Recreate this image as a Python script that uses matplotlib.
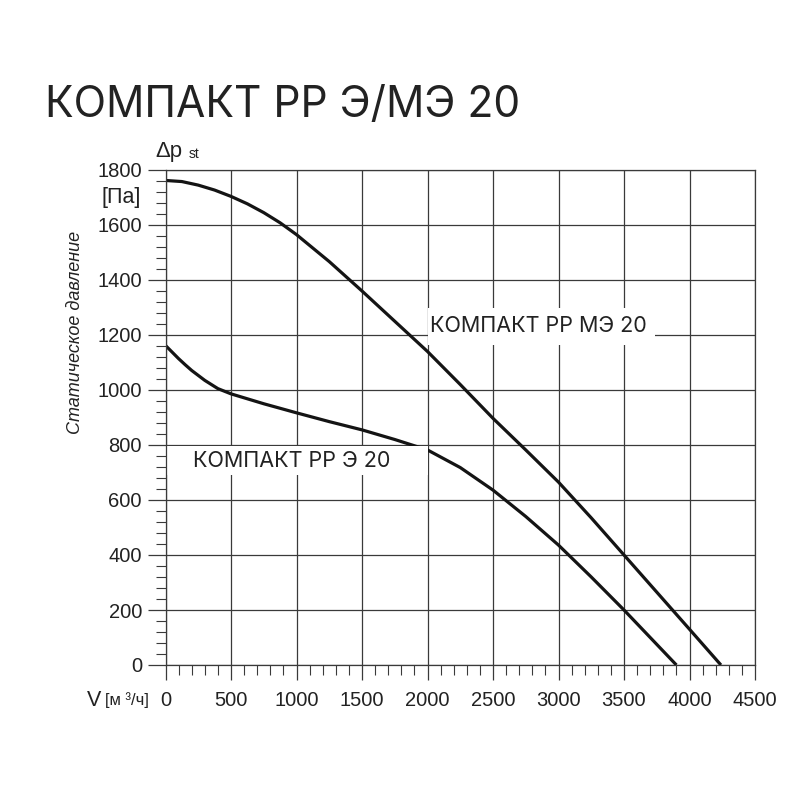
"""Fan curve chart: static pressure vs air flow for KOMPAKT RR E/ME 20."""
import matplotlib
matplotlib.use("Agg")
import matplotlib.pyplot as plt
from matplotlib.patches import Rectangle
from matplotlib.ticker import MultipleLocator

# --- data ---
Q_ME = [0, 125, 250, 375, 500, 625, 750, 875, 1000, 1250, 1500, 1750,
        2000, 2250, 2500, 2750, 3000, 3250, 3500, 3750, 4000, 4240]
P_ME = [1762, 1758, 1745, 1727, 1704, 1677, 1645, 1608, 1565, 1467, 1360,
        1250, 1140, 1020, 897, 782, 665, 535, 400, 265, 130, 0]

Q_E = [0, 50, 100, 150, 200, 300, 400, 500, 750, 1000, 1250, 1500, 1750,
       2000, 2250, 2500, 2750, 3000, 3250, 3500, 3750, 3900]
P_E = [1162, 1138, 1114, 1092, 1071, 1035, 1005, 986, 950, 917, 885, 855,
       820, 782, 718, 636, 540, 436, 320, 200, 75, 0]

TITLE = "КОМПАКТ РР Э/МЭ 20"
LABEL_ME = "КОМПАКТ РР МЭ 20"
LABEL_E = "КОМПАКТ РР Э 20"
YLABEL = "Статическое давление"

X_TICKS = list(range(0, 4501, 500))
Y_TICKS = list(range(0, 1801, 200))

LINE_C = "#141414"
GRID_C = "#3a3a3a"
TEXT_C = "#222222"
TICK_FONT = "Liberation Sans"
HEAD_FONT = ["Inter", "Roboto", "DejaVu Sans"]

fig = plt.figure(figsize=(8, 8), dpi=100)
ax = fig.add_axes([165.5 / 800, 135 / 800, 589.5 / 800, 495 / 800])

ax.plot(Q_ME, P_ME, color=LINE_C, lw=2.3, zorder=2, solid_capstyle="butt")
ax.plot(Q_E, P_E, color=LINE_C, lw=2.3, zorder=2, solid_capstyle="butt")

ax.set_xlim(0, 4500)
ax.set_ylim(0, 1800)
ax.set_xticks(X_TICKS)
ax.set_yticks(Y_TICKS)
ax.xaxis.set_minor_locator(MultipleLocator(100))
ax.yaxis.set_minor_locator(MultipleLocator(40))
ax.grid(True, which="major", color=GRID_C, lw=0.9)
ax.set_axisbelow(True)
for s in ax.spines.values():
    s.set_color(GRID_C)
    s.set_linewidth(0.9)
    s.set_zorder(5)

ax.tick_params(axis="x", which="major", length=11, width=0.9, color=GRID_C, pad=8,
               labelsize=14.5, labelcolor=TEXT_C)
ax.tick_params(axis="x", which="minor", length=7, width=0.8, color=GRID_C)
ax.tick_params(axis="y", which="major", length=13, width=0.9, color=GRID_C, pad=4,
               labelsize=14.5, labelcolor=TEXT_C)
ax.tick_params(axis="y", which="minor", length=7, width=0.8, color=GRID_C)
for lab in ax.get_xticklabels() + ax.get_yticklabels():
    lab.set_fontfamily(TICK_FONT)

# white backgrounds behind the curve labels (they hide grid and curve)
ax.add_patch(Rectangle((12, 691), 1988, 105, facecolor="white",
                       edgecolor="none", zorder=3))
ax.add_patch(Rectangle((2000, 1164), 1737, 134, facecolor="white",
                       edgecolor="none", zorder=3))

ax.text(2020, 1232, LABEL_ME, fontsize=15.5, color=TEXT_C, family=HEAD_FONT,
        ha="left", va="center", zorder=4)
ax.text(210, 743, LABEL_E, fontsize=15.5, color=TEXT_C, family=HEAD_FONT,
        ha="left", va="center", zorder=4)

# title and axis annotations
fig.text(45 / 800, 1 - 117 / 800, TITLE, fontsize=30.6, color=TEXT_C,
         family=HEAD_FONT, ha="left", va="baseline")
fig.text(75 / 800, 1 - 332 / 800, YLABEL, fontsize=13, color=TEXT_C,
         family=TICK_FONT, style="italic", rotation=90, ha="center", va="center")
fig.text(155 / 800, 1 - 157 / 800, "Δp", fontsize=16, color=TEXT_C,
         family=TICK_FONT, ha="left", va="baseline")
fig.text(189 / 800, 1 - 158 / 800, "st", fontsize=10, color=TEXT_C,
         family=TICK_FONT, ha="left", va="baseline")
fig.text(141 / 800, 1 - 198 / 800, "[Па]", fontsize=15.5, color=TEXT_C,
         family=TICK_FONT, ha="right", va="center")
fig.text(87 / 800, 1 - 706 / 800, "V", fontsize=15.5, color=TEXT_C,
         family=TICK_FONT, ha="left", va="baseline")
fig.text(105 / 800, 1 - 705 / 800, "[м ³/ч]", fontsize=12, color=TEXT_C,
         family=TICK_FONT, ha="left", va="baseline")

fig.savefig("out.png", dpi=100, facecolor="white")
